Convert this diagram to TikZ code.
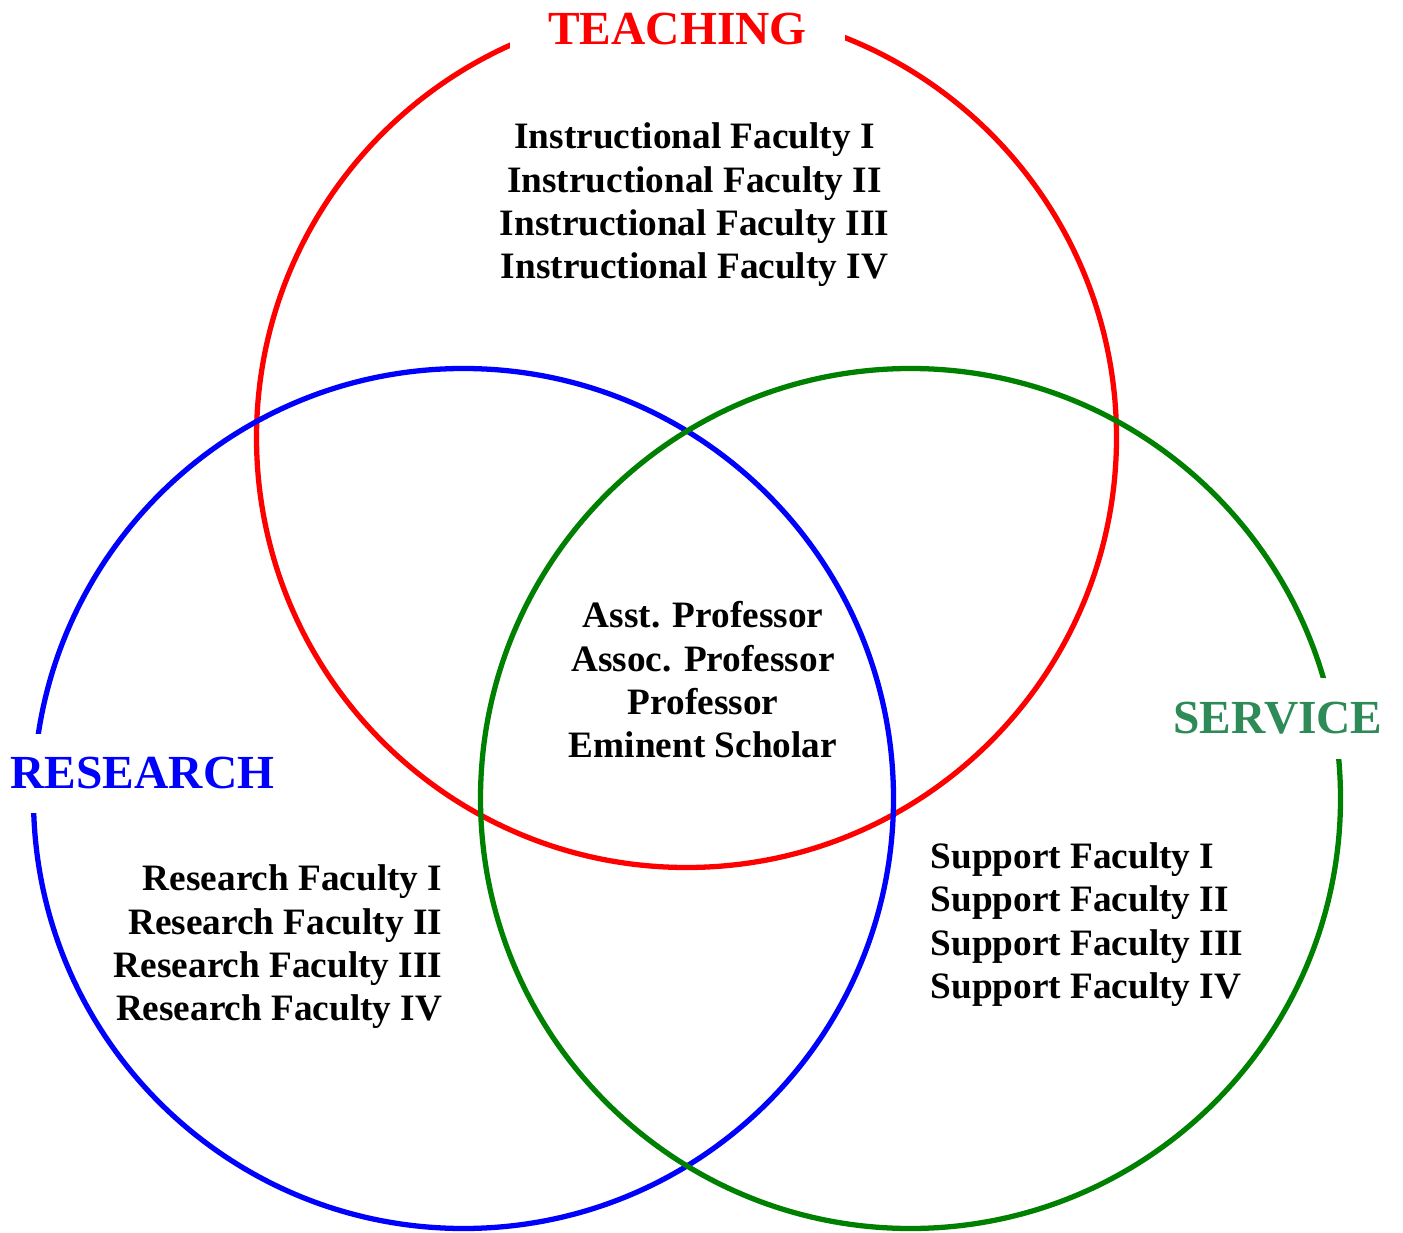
\documentclass[tikz,border=0pt]{standalone}
\usepackage{fontspec}
\setmainfont{Liberation Serif}
\usepackage{tikz, tkz-euclide}
\usetikzlibrary{positioning}

\definecolor{circgreen}{RGB}{0,128,0}
\definecolor{servgreen}{RGB}{46,139,87}

\tikzset{
  ring/.style={line width=1.5pt},
  setname/.style={fill=white, inner xsep=0.385cm, inner ysep=0.24cm,
    font=\fontsize{13.5}{16}\selectfont\bfseries},
  ranks/.style={inner sep=0pt, font=\fontsize{10.6}{12.32}\selectfont\bfseries}
}

\begin{document}
\begin{tikzpicture}

    \useasboundingbox (0,0) rectangle (14.03,12.32);

    \tkzDefPoint(6.865,7.945){T}
    \tkzDefPoint(4.635,4.335){R}
    \tkzDefPoint(9.105,4.335){S}

    \tkzDefPoint(6.865,12.245){t}
    \tkzDefPoint(4.635,8.635){r}
    \tkzDefPoint(9.105,8.635){s}

    \tkzDrawCircle[ring, red](T,t)
    \tkzDrawCircle[ring, blue](R,r)
    \tkzDrawCircle[ring, circgreen](S,s)

    \node[setname, text=red] (teaching) at (6.775,12.03) {TEACHING};
    \node[setname, text=blue] (research) at (1.425,4.585) {RESEARCH};
    \node[setname, text=servgreen] (service) at (12.78,5.135) {SERVICE};

    \node[ranks, align=center] (instr) at (6.945,10.27)
      {Instructional Faculty I\\Instructional Faculty II\\Instructional Faculty III\\Instructional Faculty IV};
    \node[ranks, align=center] (profs) at (7.03,5.52)
      {Asst. Professor\\Assoc. Professor\\Professor\\Eminent Scholar};
    \node[ranks, align=right, anchor=east] (resfac) at (4.43,2.85)
      {Research Faculty I\\Research Faculty II\\Research Faculty III\\Research Faculty IV};
    \node[ranks, align=left, anchor=west] (supfac) at (9.30,3.075)
      {Support Faculty I\\Support Faculty II\\Support Faculty III\\Support Faculty IV};

  \end{tikzpicture}
\end{document}
